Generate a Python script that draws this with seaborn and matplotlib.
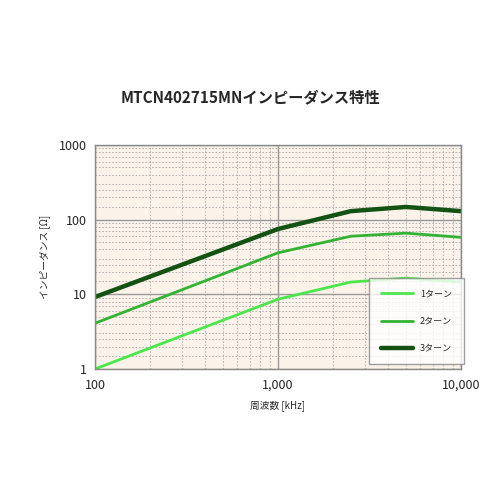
import matplotlib
matplotlib.use("Agg")
import matplotlib.pyplot as plt
import seaborn as sns
import pandas as pd
from matplotlib.ticker import FixedLocator, FuncFormatter, LogLocator, NullFormatter

freq = [100, 1000, 2500, 5000, 10000]
turn1 = [1.0, 8.6, 14.6, 16.5, 14.6]
turn2 = [4.1, 36, 60, 66, 58]
turn3 = [9.2, 75, 130, 148, 130]
labels = ["1ターン", "2ターン", "3ターン"]
colors = ["#4CE64C", "#33B233", "#145214"]
widths = [2.0, 2.0, 3.2]

df = pd.DataFrame({"freq": freq * 3,
                   "z": turn1 + turn2 + turn3,
                   "series": [l for l in labels for _ in freq]})

sns.set_style("white")
plt.rcParams['font.family'] = ['Noto Sans CJK JP', 'DejaVu Sans']

fig = plt.figure(figsize=(5, 5), dpi=100)
ax = fig.add_axes([0.19, 0.262, 0.732, 0.448])
ax.set_facecolor("#FBF3EA")

for lab, c, w in zip(labels, colors, widths):
    sub = df[df.series == lab]
    sns.lineplot(data=sub, x="freq", y="z", color=c, lw=w, label=lab, ax=ax)

ax.set_xscale("log")
ax.set_yscale("log")
ax.set_xlim(100, 10000)
ax.set_ylim(1, 1000)
ax.xaxis.set_major_locator(FixedLocator([100, 1000, 10000]))
ax.yaxis.set_major_locator(FixedLocator([1, 10, 100, 1000]))
ax.xaxis.set_major_formatter(FuncFormatter(lambda v, p: f"{int(round(v)):,}"))
ax.yaxis.set_major_formatter(FuncFormatter(lambda v, p: f"{int(round(v))}"))
ax.xaxis.set_minor_locator(LogLocator(base=10, subs=range(2, 10)))
ax.yaxis.set_minor_locator(LogLocator(base=10, subs=[1.5, 2, 2.5, 3, 4, 5, 6, 7, 8, 9]))
ax.xaxis.set_minor_formatter(NullFormatter())
ax.yaxis.set_minor_formatter(NullFormatter())
ax.grid(which="major", color="#999999", lw=1.0)
ax.grid(which="minor", color="#AAAAAA", lw=0.6, ls=(0, (2, 2)))
ax.tick_params(which="both", length=0, labelsize=9)
ax.tick_params(axis="x", pad=7)
ax.tick_params(axis="y", pad=6)
for s in ax.spines.values():
    s.set_color("#888888")
    s.set_linewidth(1.0)

ax.set_xlabel("周波数 [kHz]", fontsize=7, labelpad=6)
ax.set_ylabel("インピーダンス [Ω]", fontsize=7, labelpad=6)
fig.text(0.5, 0.795, "MTCN402715MNインピーダンス特性", ha="center", fontsize=11, fontweight="bold")

leg = ax.legend(loc="lower right", bbox_to_anchor=(1.02, 0.0), fontsize=6.5, frameon=True,
                fancybox=False, edgecolor="#888888", borderpad=1.3, labelspacing=2.0,
                handlelength=3.5)
leg.get_frame().set_facecolor("white")

fig.savefig("out.png", dpi=100)
